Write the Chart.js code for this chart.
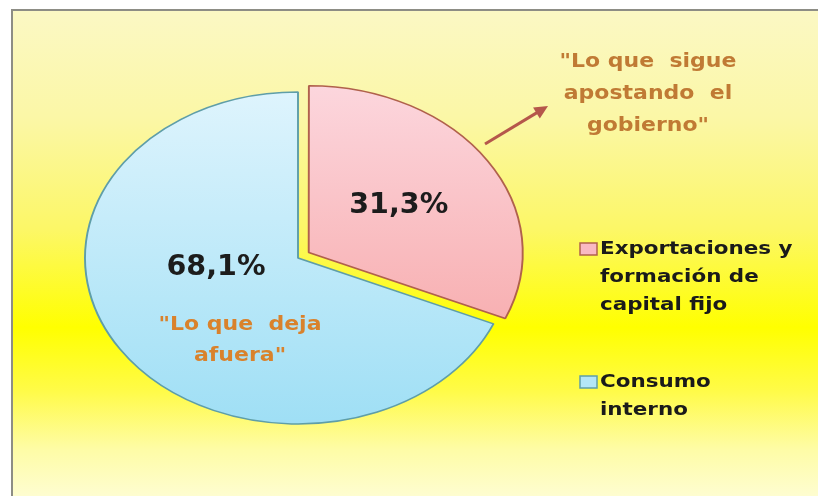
<!DOCTYPE html>
<html><head><meta charset="utf-8">
<script src="https://cdn.jsdelivr.net/npm/chart.js@4.4.0/dist/chart.umd.min.js"></script>
<style>
html,body{margin:0;padding:0;background:#fff;width:818px;height:496px;overflow:hidden}
#frame{position:absolute;left:11px;top:9px;width:807px;height:487px;border-left:2px solid #8d8d85;border-top:2px solid #8d8d85;
background:linear-gradient(to bottom,#fbf8c4 0%,#fbf7a6 22%,#fcf766 45%,#ffff00 65%,#fffb48 78%,#fefca6 90%,#fefdd2 100%)}
#wrap{position:absolute;left:0;top:0;width:818px;height:496px}
</style></head>
<body><div id="frame"></div><div id="wrap"><canvas id="c" width="818" height="496"></canvas></div>
<script>
// ---- data ----
const categories = ['Exportaciones y formación de capital fijo', 'Consumo interno'];
const values = [31.3, 68.1];
const legendLines = [['Exportaciones y', 'formación de', 'capital fijo'], ['Consumo', 'interno']];
const calloutLines = ['"Lo que  sigue', 'apostando  el', 'gobierno"'];
const insideLines = ['"Lo que  deja', 'afuera"'];

// ---- style ----
const SX = 1.283;             // horizontal stretch of the pie (elliptical look)
const OFFSETS = [40, 0];      // Chart.js v4 draws offset/4 -> ~10px
const topColors = ['#fcd6dd', '#def4fd'];
const botColors = ['#f6a0a0', '#9fdff5'];
const borderColors = ['#b0614c', '#5f9ea8'];
const boxFill = ['#f9b9c2', '#b3e6f7'];

function grad(ctx, chart, i) {
  const ca = chart.chartArea;
  if (!ca) return botColors[i];
  const cy = (ca.top + ca.bottom) / 2;
  const g = ctx.createLinearGradient(0, cy - 166, 0, cy + 166);
  g.addColorStop(0, topColors[i]);
  g.addColorStop(1, botColors[i]);
  return g;
}

const ellipse = {
  id: 'ellipse',
  beforeDatasetsDraw(chart) {
    const ctx = chart.ctx, a = chart.getDatasetMeta(0).data[1];
    ctx.save();
    ctx.translate(a.x, a.y); ctx.scale(SX, 1); ctx.translate(-a.x, -a.y);
  },
  afterDatasetsDraw(chart) { chart.ctx.restore(); }
};

function txt(ctx, s, x, y, font, color, align, hs) {
  ctx.save();
  ctx.translate(x, y); ctx.scale(hs, 1);
  ctx.font = font; ctx.fillStyle = color; ctx.textAlign = align; ctx.textBaseline = 'middle';
  ctx.fillText(s, 0, 0);
  ctx.restore();
}

const labelsPlugin = {
  id: 'labelsPlugin',
  afterDraw(chart) {
    const ctx = chart.ctx;
    const meta = chart.getDatasetMeta(0);
    const cx = meta.data[1].x;
    const pos = meta.data.map((a, i) => {
      const mid = (a.startAngle + a.endAngle) / 2;
      const r = a.outerRadius / 2 + OFFSETS[i] / 4;
      return { x: cx + Math.cos(mid) * r * SX, y: a.y + Math.sin(mid) * r };
    });
    const fmt = v => v.toFixed(1).replace('.', ',') + '%';
    // percentages
    txt(ctx, fmt(values[0]), pos[0].x + 1, pos[0].y - 1, 'bold 28px "DejaVu Sans"', '#1c1c1c', 'center', 1.02);
    txt(ctx, fmt(values[1]), pos[1].x + 7, pos[1].y - 36, 'bold 28px "DejaVu Sans"', '#1c1c1c', 'center', 1.02);
    // inside quote
    insideLines.forEach((s, k) => txt(ctx, s, pos[1].x + 31, pos[1].y + 21 + k * 31, 'bold 20px "DejaVu Sans"', '#d9822c', 'center', 1.1));
    // callout
    calloutLines.forEach((s, k) => txt(ctx, s, 648, 62 + k * 32, 'bold 20px "DejaVu Sans"', '#c07a34', 'center', 1.1));
    // arrow
    const x1 = 485, y1 = 144, x2 = 548, y2 = 106;
    const ang = Math.atan2(y2 - y1, x2 - x1);
    ctx.save();
    ctx.strokeStyle = '#b5574b'; ctx.fillStyle = '#b5574b'; ctx.lineWidth = 3;
    ctx.beginPath(); ctx.moveTo(x1, y1); ctx.lineTo(x2 - 9 * Math.cos(ang), y2 - 9 * Math.sin(ang)); ctx.stroke();
    ctx.beginPath();
    ctx.moveTo(x2, y2);
    ctx.lineTo(x2 - 15 * Math.cos(ang - 0.45), y2 - 15 * Math.sin(ang - 0.45));
    ctx.lineTo(x2 - 15 * Math.cos(ang + 0.45), y2 - 15 * Math.sin(ang + 0.45));
    ctx.closePath(); ctx.fill();
    ctx.restore();
    // legend
    const starts = [249, 382];
    legendLines.forEach((lines, i) => {
      const y0 = starts[i];
      ctx.save();
      ctx.fillStyle = boxFill[i]; ctx.strokeStyle = borderColors[i]; ctx.lineWidth = 1.5;
      ctx.fillRect(580, y0 - 6, 17, 12); ctx.strokeRect(580, y0 - 6, 17, 12);
      ctx.restore();
      lines.forEach((s, k) => txt(ctx, s, 600, y0 + k * 28, 'bold 18px "DejaVu Sans"', '#1a1a1a', 'left', 1.19));
    });
  }
};

new Chart(document.getElementById('c'), {
  type: 'pie',
  data: {
    labels: categories,
    datasets: [{
      data: values,
      backgroundColor: ctx => grad(ctx.chart.ctx, ctx.chart, ctx.dataIndex),
      borderColor: borderColors,
      borderWidth: 1.5,
      offset: OFFSETS,
      radius: 166,
      clip: false
    }]
  },
  options: {
    responsive: false,
    animation: false,
    devicePixelRatio: 1,
    events: [],
    layout: { padding: { left: 0, right: 222, top: 60, bottom: 40 } },
    plugins: { legend: { display: false }, tooltip: { enabled: false } }
  },
  plugins: [ellipse, labelsPlugin]
});
</script>
</body></html>
